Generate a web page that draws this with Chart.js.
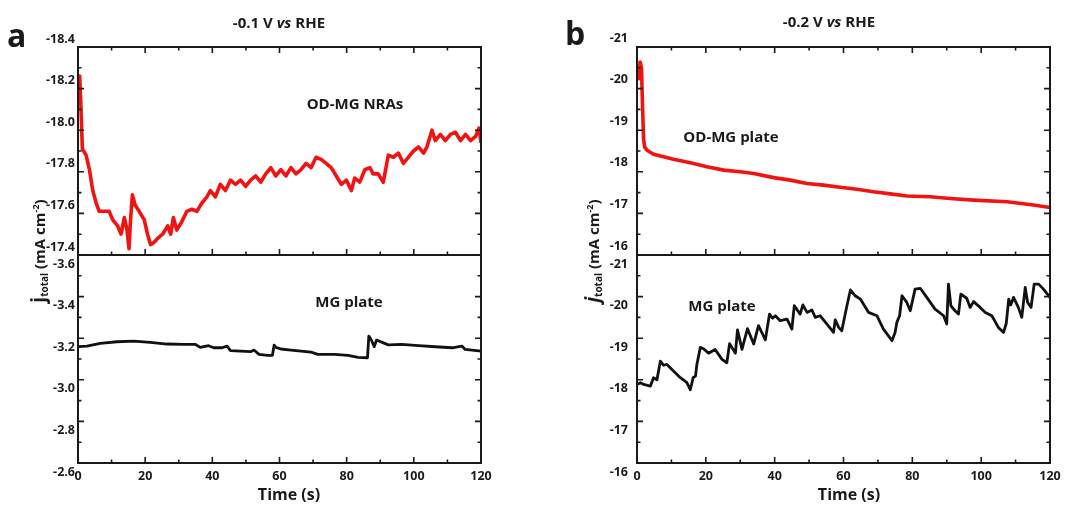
<!DOCTYPE html>
<html>
<head>
<meta charset="utf-8">
<script src="https://cdn.jsdelivr.net/npm/chart.js@4.4.1/dist/chart.umd.min.js"></script>
<style>
  body { margin: 0; background: #fff; width: 1067px; height: 505px; overflow: hidden; position: relative; font-family: 'Open Sans', sans-serif; color: #1a1a1a; }
  canvas { position: absolute; }
  .txt { position: absolute; font-weight: bold; white-space: nowrap; text-align: center; }
  .ylab { position: absolute; width: 180px; height: 22px; line-height: 22px; text-align: center; font-weight: bold; font-size: 15px; transform: rotate(-90deg); white-space: nowrap; }
  .ylab .j { font-size: 19px; }
  .ylab sub { font-size: 10px; vertical-align: -3px; }
  .ylab sup { font-size: 9px; vertical-align: 6px; }
  #err { position: absolute; left: 300px; top: 380px; color: blue; font-size: 11px; }
</style>
</head>
<body>
<canvas id="c1" width="500" height="240" style="left:0;top:25px"></canvas>
<canvas id="c2" width="500" height="260" style="left:0;top:245px"></canvas>
<canvas id="c3" width="507" height="240" style="left:560px;top:25px"></canvas>
<canvas id="c4" width="507" height="260" style="left:560px;top:245px"></canvas>

<div class="txt" style="left:7px;top:15px;font-size:32px;line-height:40px">a</div>
<div class="txt" style="left:565px;top:13px;font-size:32px;line-height:40px">b</div>
<div class="txt" style="left:179px;top:11px;width:200px;font-size:15px;line-height:22px">-0.1 V <i>vs</i> RHE</div>
<div class="txt" style="left:729px;top:10px;width:200px;font-size:15px;line-height:22px">-0.2 V <i>vs</i> RHE</div>
<div class="txt" style="left:255px;top:92px;width:200px;font-size:15px;line-height:22px">OD-MG NRAs</div>
<div class="txt" style="left:249px;top:290px;width:200px;font-size:15px;line-height:22px">MG plate</div>
<div class="txt" style="left:631px;top:125px;width:200px;font-size:15px;line-height:22px">OD-MG plate</div>
<div class="txt" style="left:622px;top:294px;width:200px;font-size:15px;line-height:22px">MG plate</div>
<div class="txt" style="left:189px;top:483px;width:200px;font-size:16px;line-height:22px">Time (s)</div>
<div class="txt" style="left:749px;top:483px;width:200px;font-size:16px;line-height:22px">Time (s)</div>
<div class="ylab" style="left:-54px;top:240px"><span class="j">j</span><sub>total</sub> (mA cm<sup>-2</sup>)</div>
<div class="ylab" style="left:500px;top:240px"><span class="j"><i>j</i></span><sub>total</sub> (mA cm<sup>-2</sup>)</div>
<div id="err"></div>

<script>
// panel a, top: OD-MG NRAs at -0.1 V
const timeA = [0, 0.5, 0.9, 1.3, 2.4, 3.4, 4.4, 5.4, 6.3, 7.8, 9.3, 10.3, 11.8, 12.8, 13.8, 14.6, 15.2, 15.6, 16.2, 17.0,
  18.2, 19.7, 20.7, 21.6, 22.6, 23.7, 25.2, 26.7, 27.6, 28.4, 29.4, 30.9, 32.4, 33.9, 35.4, 36.9, 38.4, 39.4, 40.9, 42.4,
  43.9, 45.4, 46.9, 48.4, 49.9, 51.4, 52.9, 54.4, 55.9, 57.4, 58.9, 60.4, 61.9, 63.4, 64.9, 66.4, 67.9, 69.4, 70.9, 72.4,
  73.9, 75.4, 76.9, 78.4, 79.9, 81.4, 82.4, 83.9, 85.4, 86.9, 87.9, 89.4, 90.9, 92.4, 93.9, 95.4, 96.9, 98.4, 99.9, 101.4,
  102.9, 103.9, 105.4, 106.4, 107.9, 109.4, 110.9, 112.4, 113.9, 115.4, 116.9, 118.4, 119.4, 120];
const jA = [-18.24, -18.26, -18.1, -17.91, -17.88, -17.81, -17.71, -17.65, -17.61, -17.61, -17.61, -17.57, -17.54, -17.50, -17.58, -17.52, -17.43, -17.56, -17.69, -17.64,
  -17.61, -17.57, -17.50, -17.45, -17.46, -17.48, -17.50, -17.54, -17.50, -17.58, -17.52, -17.56, -17.61, -17.62, -17.61, -17.65, -17.68, -17.71, -17.68, -17.74,
  -17.71, -17.76, -17.74, -17.76, -17.73, -17.76, -17.78, -17.75, -17.79, -17.82, -17.78, -17.81, -17.78, -17.82, -17.79, -17.81, -17.84, -17.82, -17.87, -17.86,
  -17.84, -17.82, -17.78, -17.74, -17.76, -17.71, -17.77, -17.75, -17.81, -17.82, -17.79, -17.79, -17.75, -17.88, -17.87, -17.89, -17.84, -17.87, -17.90, -17.92,
  -17.89, -17.92, -18.00, -17.95, -17.98, -17.95, -17.98, -17.99, -17.95, -17.98, -17.95, -17.97, -18.01, -17.94];

// panel a, bottom: MG plate at -0.1 V
const timeB = [0, 2.7, 6.6, 11.6, 16.6, 21.5, 26.5, 31.5, 35, 36.4, 38.9, 40.4, 42.9, 44.4, 45.4, 48.4, 51.4, 52.4, 53.9, 56.4,
  57.9, 58.4, 58.9, 60.4, 63.4, 66.4, 69.4, 71.4, 76.4, 80.4, 83.4, 86.2, 86.6, 87.4, 88.2, 88.9, 90.4, 92.4, 96.4, 101.4,
  106.4, 111.4, 114.3, 115.3, 120];
const jB = [-3.159, -3.162, -3.175, -3.183, -3.186, -3.180, -3.172, -3.170, -3.170, -3.156, -3.164, -3.154, -3.154, -3.162, -3.140, -3.138, -3.135, -3.143, -3.122, -3.117,
  -3.118, -3.167, -3.156, -3.148, -3.143, -3.138, -3.133, -3.122, -3.122, -3.117, -3.108, -3.106, -3.210, -3.190, -3.159, -3.191, -3.181, -3.168, -3.170, -3.164,
  -3.159, -3.154, -3.162, -3.146, -3.138];

// panel b, top: OD-MG plate at -0.2 V
const timeC = [0.6, 0.9, 1.3, 1.6, 1.9, 2.2, 2.9, 4.8, 7.7, 10.6, 15.5, 20.3, 25.2, 30, 33.9, 39.7, 44.5, 49.4, 54.2, 59,
  63.9, 68.7, 73.6, 78.4, 85.2, 91.0, 97.8, 107.5, 115.2, 120];
const jC = [-20.2, -20.64, -20.5, -19.6, -18.8, -18.6, -18.52, -18.42, -18.36, -18.30, -18.22, -18.12, -18.04, -18.0, -17.96, -17.86, -17.80, -17.72, -17.68, -17.63,
  -17.58, -17.52, -17.47, -17.42, -17.40, -17.36, -17.32, -17.28, -17.20, -17.14];

// panel b, bottom: MG plate at -0.2 V
const timeD = [0, 1, 1.9, 3.9, 4.8, 5.8, 6.8, 7.7, 8.7, 10.6, 12.6, 14.5, 15.5, 16.3, 17, 17.4, 18.4, 19.4, 20.8, 22.7,
  24.7, 26.1, 26.9, 28.6, 29.2, 30.5, 32.1, 33.9, 35.3, 37.3, 38.5, 39.4, 40.2, 41.6, 43.6, 45, 45.7, 47.4, 48.2, 49.4,
  50.8, 51.8, 53.2, 55.2, 57.1, 57.6, 58.6, 59.5, 60.8, 62, 63.4, 64.9, 67.3, 69.7, 71.6, 74.1, 75, 75.5, 76.3, 77,
  78.4, 79.4, 80.8, 82.3, 84.2, 86.6, 89.1, 90, 90.5, 91.2, 92.4, 93.4, 94.1, 95.8, 96.8, 97.8, 99.7, 101.2, 103.1, 105,
  106.5, 107.3, 108, 108.6, 109.4, 110.8, 111.8, 112.8, 113.5, 114.5, 115.4, 116.7, 118.1, 120];
const jD = [-17.89, -17.93, -17.89, -17.85, -18.05, -18.0, -18.45, -18.35, -18.37, -18.21, -18.05, -17.93, -17.76, -18.05, -18.09, -18.37, -18.78, -18.74, -18.64, -18.73,
  -18.49, -18.41, -18.87, -18.64, -19.2, -18.73, -19.23, -18.86, -19.3, -18.96, -19.58, -19.48, -19.54, -19.42, -19.46, -19.22, -19.78, -19.58, -19.8, -19.62,
  -19.68, -19.5, -19.54, -19.34, -19.14, -19.44, -19.26, -19.18, -19.7, -20.16, -20.02, -19.94, -19.62, -19.54, -19.22, -18.94, -19.14, -19.38, -19.54, -20.02,
  -19.86, -19.66, -20.18, -20.2, -19.98, -19.7, -19.54, -19.34, -20.3, -19.78, -19.66, -19.58, -20.06, -19.96, -19.74, -19.88, -19.74, -19.62, -19.54, -19.26,
  -19.14, -19.36, -19.94, -19.8, -19.98, -19.74, -19.5, -20.22, -19.86, -19.74, -20.3, -20.3, -20.18, -19.98];

Chart.defaults.font.family = "'Open Sans', sans-serif";
Chart.defaults.font.weight = 'bold';
Chart.defaults.font.size = 12.5;
Chart.defaults.color = '#1a1a1a';

// which sides of each panel get tick marks
const tickSides = {
  c1: { top: true, bottom: true },
  c2: { top: false, bottom: true },
  c3: { top: true, bottom: true },
  c4: { top: false, bottom: true }
};

// frame plus inward ticks
const frameTicks = {
  id: 'frameTicks',
  afterDraw(chart) {
    try {
      const ctx = chart.ctx;
      const a = chart.chartArea;
      const x = chart.scales.x, y = chart.scales.y;
      const sides = tickSides[chart.canvas.id];
      ctx.save();
      ctx.strokeStyle = '#1a1a1a';
      ctx.lineWidth = 2;
      ctx.strokeRect(a.left, a.top, a.right - a.left, a.bottom - a.top);
      ctx.lineWidth = 1.6;
      ctx.beginPath();
      const mark = (vals, scale, len, horiz) => {
        vals.forEach(v => {
          const p = scale.getPixelForValue(v);
          if (horiz) {
            if (sides.top) { ctx.moveTo(p, a.top); ctx.lineTo(p, a.top + len); }
            if (sides.bottom) { ctx.moveTo(p, a.bottom); ctx.lineTo(p, a.bottom - len); }
          } else {
            ctx.moveTo(a.left, p); ctx.lineTo(a.left + len, p);
            ctx.moveTo(a.right, p); ctx.lineTo(a.right - len, p);
          }
        });
      };
      const xs = [];
      for (let v = x.min; v <= x.max + 1e-9; v += 20) xs.push(v);
      const ys = y.ticks.map(t => t.value);
      const mid = arr => arr.slice(1).map((v, i) => (v + arr[i]) / 2);
      mark(xs, x, 6, true);
      mark(mid(xs), x, 3.5, true);
      mark(ys, y, 6, false);
      mark(mid(ys), y, 3.5, false);
      ctx.stroke();
      ctx.restore();
    } catch (e) {
      document.getElementById('err').textContent += e.message + ' ';
    }
  }
};

const noPad = s => { s.paddingTop = 0; s.paddingBottom = 0; s.paddingLeft = 0; s.paddingRight = 0; };

function makeChart(id, times, vals, color, yMin, yMax, yStep, digits, cfg) {
  new Chart(document.getElementById(id), {
    type: 'line',
    data: {
      datasets: [{
        data: times.map((t, i) => ({ x: t, y: vals[i] })),
        borderColor: color,
        borderWidth: cfg.lw,
        pointRadius: 0,
        tension: 0,
        borderJoinStyle: 'round'
      }]
    },
    options: {
      responsive: false,
      animation: false,
      events: [],
      layout: { padding: cfg.pad },
      plugins: { legend: { display: false }, tooltip: { enabled: false } },
      scales: {
        x: {
          type: 'linear', min: 0, max: 120,
          display: cfg.showX,
          grid: { display: false, drawTicks: false },
          border: { display: false },
          ticks: { stepSize: 20, padding: 6, maxRotation: 0, autoSkip: false },
          afterFit: s => { if (cfg.showX) s.height = 28; noPad(s); }
        },
        y: {
          type: 'linear', min: yMin, max: yMax, reverse: true,
          grid: { display: false, drawTicks: false },
          border: { display: false },
          ticks: { stepSize: yStep, padding: cfg.yPad, labelOffset: cfg.labelOffset, autoSkip: false, callback: v => v.toFixed(digits) },
          afterFit: s => { s.width = cfg.yWidth; noPad(s); }
        }
      }
    },
    plugins: [frameTicks]
  });
}

makeChart('c1', timeA, jA, '#f21212', -18.4, -17.4, 0.2, 1,
  { lw: 3.6, pad: { top: 22, bottom: 10, left: 0, right: 19 }, showX: false, yPad: 3, labelOffset: -8, yWidth: 78 });
makeChart('c2', timeB, jB, '#111111', -3.6, -2.6, 0.2, 1,
  { lw: 2.8, pad: { top: 10, bottom: 14, left: 0, right: 19 }, showX: true, yPad: 3, labelOffset: 9, yWidth: 78 });
makeChart('c3', timeC, jC, '#f21212', -21, -16, 1, 0,
  { lw: 3.6, pad: { top: 22, bottom: 10, left: 0, right: 17 }, showX: false, yPad: 9, labelOffset: -9, yWidth: 77 });
makeChart('c4', timeD, jD, '#111111', -21, -16, 1, 0,
  { lw: 2.8, pad: { top: 10, bottom: 14, left: 0, right: 17 }, showX: true, yPad: 9, labelOffset: 9, yWidth: 77 });
</script>
</body>
</html>
